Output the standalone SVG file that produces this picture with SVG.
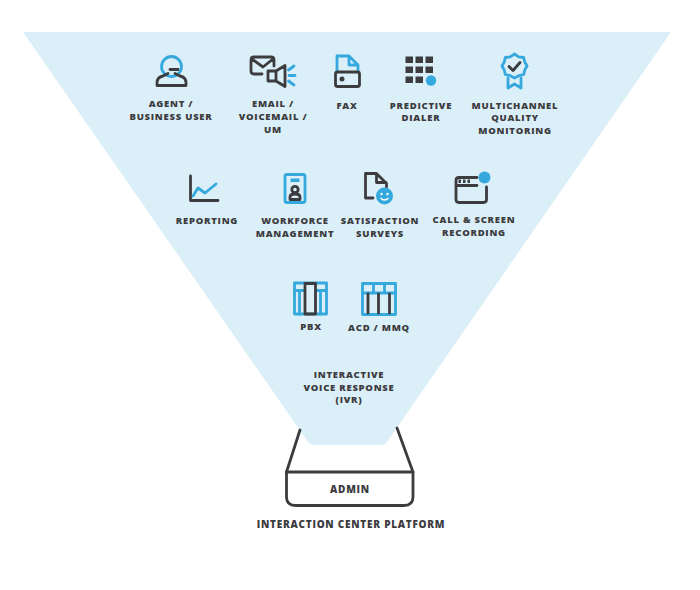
<svg xmlns="http://www.w3.org/2000/svg" width="700" height="590" viewBox="0 0 700 590">
<style>
text{font-family:"Open Sans","Liberation Sans",sans-serif;font-weight:800;font-size:9.5px;letter-spacing:.75px;fill:#3c3c3f;text-anchor:middle}
.l{font-size:10px}
.d{fill:none;stroke:#3c3c3f;stroke-width:2.8;stroke-linejoin:round;stroke-linecap:round}
.b{fill:none;stroke:#35a8de;stroke-width:2.8;stroke-linejoin:round;stroke-linecap:round}
.df{fill:#3c3c3f}
.bf{fill:#35a8de}
</style>
<rect width="700" height="590" fill="#fff"/>
<path id="funnel" d="M23 32H671L387 442Q385 445 382 445H313Q310 445 308 442Z" fill="#dbeff8"/>
<g id="connectors">
<path class="d" d="M300 430L286.500 472M397 428L413 472"/>
</g>
<g id="admin">
<path class="d" d="M286.500 472H413V497Q413 505.500 404 505.500H295.500Q286.500 505.500 286.500 497Z"/>
<text class="l" x="350" y="493">ADMIN</text>
</g>
<g id="platform"><text class="l" x="351" y="528">INTERACTION CENTER PLATFORM</text></g>
<g id="agent">
<circle class="b" cx="171.500" cy="66.500" r="10"/>
<path class="d" d="M157 85.500V83Q157 77 163 76L168 73.500M186 85.500V83Q186 77 180 76L175 73.500M157 85.500H186M170 69.500H178"/>
<text x="171" y="107">AGENT /</text><text x="171" y="120">BUSINESS USER</text>
</g>
<g id="email">
<path class="d" d="M262 74H254Q251 74 251 71V60Q251 57 254 57H271Q274 57 274 60V66M252 59L263 67L273 59"/>
<path class="d" d="M268 71H276V81H268ZM276 71L285 65.500V86.500L276 81"/>
<path class="b" d="M288.500 70L294 66M289 75.500H295M288.500 81L294 85"/>
<text x="273" y="107">EMAIL /</text><text x="273" y="120">VOICEMAIL /</text><text x="273" y="133">UM</text>
</g>
<g id="fax">
<path class="b" d="M337 71V56H349L358 65V71M349 56V65H358"/>
<rect class="d" x="335.500" y="72" width="24" height="14.500" rx="2"/>
<circle class="df" cx="342" cy="79" r="2.500"/>
<text x="347" y="109">FAX</text>
</g>
<g id="dialer">
<path class="df" d="M405.500 56.500h7.500v6.500h-7.500zM415.500 56.500h7.500v6.500h-7.500zM425.500 56.500h7.500v6.500h-7.500zM405.500 66.500h7.500v6.500h-7.500zM415.500 66.500h7.500v6.500h-7.500zM425.500 66.500h7.500v6.500h-7.500zM405.500 76.500h7.500v6.500h-7.500zM415.500 76.500h7.500v6.500h-7.500z"/>
<circle class="bf" cx="431" cy="80.500" r="5.200"/>
<text x="421" y="109">PREDICTIVE</text><text x="421" y="121">DIALER</text>
</g>
<g id="quality">
<path class="b" d="M514.500 54L518.700 56.800L523.700 57.500L524.700 61.800L527 66L524.700 70.200L523.700 74.500L518.700 75.700L514.500 78L510.300 75.700L505.300 74.500L504.300 70.200L502 66L504.300 61.800L505.300 57.500L510.300 56.800Z"/>
<path class="b" d="M508 78V88L514.500 84L521 88V78"/>
<path class="d" d="M509 66.500L513 70.500L520 62.500"/>
<text x="515" y="109">MULTICHANNEL</text><text x="515" y="121">QUALITY</text><text x="515" y="134">MONITORING</text>
</g>
<g id="reporting">
<path class="d" d="M190.500 176V200.500H218"/>
<path class="b" d="M193 196L198 188L205 193L216 184"/>
<text x="207" y="224">REPORTING</text>
</g>
<g id="workforce">
<rect class="b" x="285" y="174.500" width="20" height="28" rx="2" stroke-width="3"/>
<path class="bf" d="M290.500 178.500h9v3.500h-9z"/>
<circle class="d" cx="295" cy="189.500" r="3.200"/>
<path class="d" d="M290 199.500V197Q290 194 295 194Q300 194 300 197V199.500Z"/>
<text x="295" y="224">WORKFORCE</text><text x="295" y="237">MANAGEMENT</text>
</g>
<g id="satisfaction">
<path class="d" d="M373 198H365.500V173.500H376.500L386.500 183.500V187M376.500 174V182.500H386"/>
<circle class="bf" cx="384.500" cy="196" r="8.500"/>
<circle cx="381.500" cy="194" r="1.200" fill="#fff"/><circle cx="387.500" cy="194" r="1.200" fill="#fff"/>
<path d="M380.500 198Q384.500 202 388.500 198" fill="none" stroke="#fff" stroke-width="1.300"/>
<text x="380" y="224">SATISFACTION</text><text x="380" y="237">SURVEYS</text>
</g>
<g id="recording">
<path class="d" d="M477 177.500H459Q456 177.500 456 180.500V199.500Q456 202.500 459 202.500H483.500Q486.500 202.500 486.500 199.500V187M456 185.500H477"/>
<path class="df" d="M458.500 179.500h2.500v3.500h-2.500zM463 179.500h2.500v3.500h-2.500zM467.500 179.500h2.500v3.500h-2.500z"/>
<circle class="bf" cx="484.500" cy="177.500" r="6"/>
<text x="474" y="223">CALL &amp; SCREEN</text><text x="474" y="236">RECORDING</text>
</g>
<g id="pbx">
<rect class="b" x="294.500" y="283" width="32" height="31"/>
<path class="b" d="M294.500 290.500H304M317 290.500H326.500M299.500 290.500V314M320.500 290.500V314"/>
<rect class="d" x="305" y="283.500" width="10.500" height="30.500" stroke-width="3"/>
<text x="311" y="330">PBX</text>
</g>
<g id="acd">
<rect class="b" x="362.500" y="283.500" width="33" height="31"/>
<path class="b" d="M362.500 293H395.500M373.500 283.500V293M384.500 283.500V293"/>
<path class="d" stroke-width="3" d="M368 294V313M378.500 294V313M389.500 294V313"/>
<text x="379" y="331">ACD / MMQ</text>
</g>
<g id="ivr">
<text x="349" y="378">INTERACTIVE</text><text x="349" y="391">VOICE RESPONSE</text><text x="349" y="403">(IVR)</text>
</g>
</svg>
